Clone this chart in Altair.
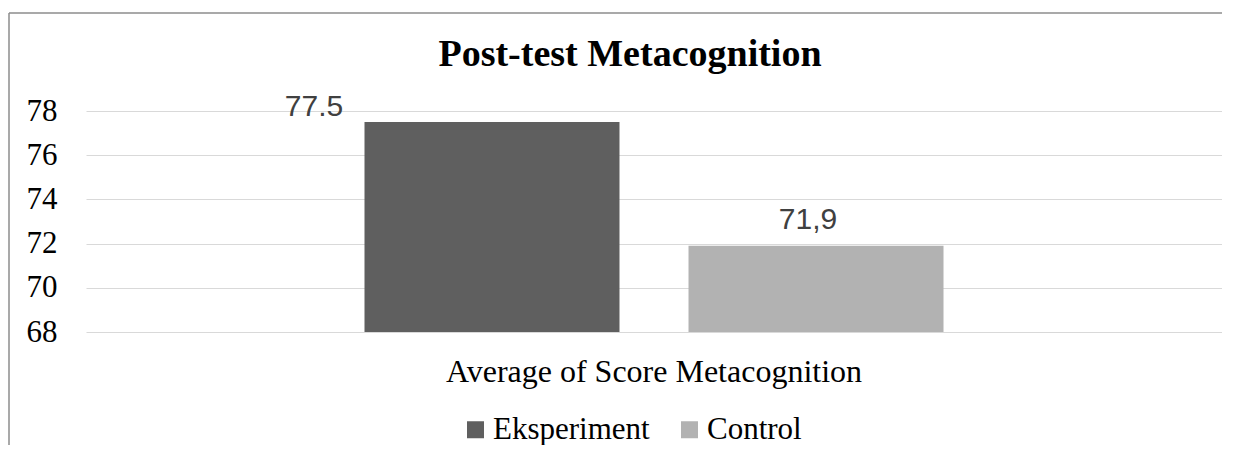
import altair as alt
import pandas as pd

category = ["Average of Score Metacognition"]
series = ["Eksperiment", "Control"]
values = [77.5, 71.9]
labels = ["77.5", "71,9"]
colors = ["#5f5f5f", "#b2b2b2"]
y_ticks = [68, 70, 72, 74, 76, 78]

df = pd.DataFrame({
    "cat": category * len(series),
    "series": series,
    "value": values,
    "label": labels,
})

SERIF = "Liberation Serif, Times New Roman, Times, serif"

base = alt.Chart(df)

x_enc = alt.X(
    "cat:N",
    title=None,
    scale=alt.Scale(paddingInner=0, paddingOuter=0.481),
    axis=alt.Axis(
        ticks=False, tickSize=0, domain=False, labelFont=SERIF, labelFontSize=32,
        labelColor="black", labelPadding=24, labelAngle=0, labelLimit=2000,
    ),
)
xo_enc = alt.XOffset(
    "series:N", sort=series,
    scale=alt.Scale(paddingInner=0.213, paddingOuter=0),
)
y_enc = alt.Y(
    "value:Q",
    title=None,
    scale=alt.Scale(domain=[68, 78], nice=False, zero=False),
    axis=alt.Axis(
        values=y_ticks, ticks=False, tickSize=0, domain=False,
        labelFont=SERIF, labelFontSize=31, labelColor="black", labelPadding=29,
        gridColor="#d9d9d9", gridWidth=1.2,
    ),
)

bars = base.mark_bar().encode(
    x=x_enc,
    xOffset=xo_enc,
    y=y_enc,
    y2=alt.datum(68),
    color=alt.Color(
        "series:N", sort=series,
        scale=alt.Scale(domain=series, range=colors),
        legend=alt.Legend(
            title=None, orient="none", legendX=374, legendY=303,
            direction="horizontal", symbolType="square", symbolSize=289,
            symbolStrokeWidth=0, labelFont=SERIF, labelFontSize=31,
            labelColor="black", labelOffset=2, columnPadding=24, padding=0,
        ),
    ),
)

txt_kw = dict(font="Liberation Sans", fontSize=30, color="#404040", baseline="middle", align="center")

lab_e = base.transform_filter(alt.datum.series == series[0]).mark_text(dx=-178, dy=-15, **txt_kw).encode(
    x="cat:N", xOffset=alt.XOffset("series:N", sort=series), y="value:Q", text="label:N"
)
lab_c = base.transform_filter(alt.datum.series == series[1]).mark_text(dx=-8, dy=-26, **txt_kw).encode(
    x="cat:N", xOffset=alt.XOffset("series:N", sort=series), y="value:Q", text="label:N"
)

frame_data = pd.DataFrame({"f": [0]})
frame_top = alt.Chart(frame_data).mark_rule(color="#8c8c8c", strokeWidth=1.5).encode(
    x=alt.value(-77), x2=alt.value(1170), y=alt.value(-98)
)
frame_left = alt.Chart(frame_data).mark_rule(color="#8c8c8c", strokeWidth=1.5).encode(
    x=alt.value(-77), y=alt.value(-98), y2=alt.value(400)
)

chart = alt.layer(frame_top, frame_left, bars, lab_e, lab_c).properties(
    width=1136,
    height=221,
    autosize=alt.AutoSizeParams(type="none"),
    padding={"left": 78, "top": 103, "right": 0, "bottom": 113},
    title=alt.TitleParams(
        "Post-test Metacognition", font=SERIF, fontSize=38, fontWeight="bold",
        color="black", anchor="middle", frame="group", dx=-24, dy=62, offset=0,
    ),
).configure_view(stroke=None)

chart.save("out.html", embed_options={"renderer": "svg", "actions": False})
